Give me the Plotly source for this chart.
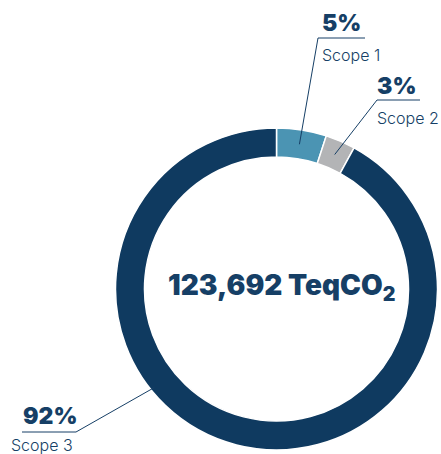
import math
import plotly.graph_objects as go

# Emissions breakdown by scope
scopes = ["Scope 1", "Scope 2", "Scope 3"]
shares = [5, 3, 92]
pct_labels = ["5%", "3%", "92%"]
total_label = "123,692 TeqCO<sub>2</sub>"

W, H = 441, 454
NAVY = "#0f3a60"
TEXT = "#163f66"
colors = ["#4b94b3", "#b3b4b6", NAVY]

# ring geometry (pixels)
cx, cy, r_out = 276.5, 289.0, 161.0
hole = 0.82
r_mid = r_out * (1 + hole) / 2

fig = go.Figure()
fig.add_trace(go.Pie(
    labels=scopes, values=shares, sort=False, direction="clockwise",
    rotation=0, hole=hole, textinfo="none", hoverinfo="label+percent",
    marker=dict(colors=colors, line=dict(color="white", width=1.5)),
    domain=dict(x=[(cx - r_out) / W, (cx + r_out) / W],
                y=[1 - (cy + r_out) / H, 1 - (cy - r_out) / H]),
    showlegend=False,
))


def ring_point(frac, r):
    a = 2 * math.pi * frac
    return cx + r * math.sin(a), cy - r * math.cos(a)


total = sum(shares)
cum = 0
mids = []
for v in shares:
    mids.append((cum + v / 2) / total)
    cum += v

# callout anchors: (elbow x, elbow y, rule x0, rule x1, label left x, pct y, name y)
callouts = [
    dict(ex=318, ey=38, rx0=318, rx1=365, lx=320, py=23, ny=55),
    dict(ex=377, ey=100, rx0=377, rx1=420, lx=375, py=86, ny=118),
    dict(ex=76, ey=432, rx0=22, rx1=76, lx=21, py=416, ny=445, lx2=9),
]

shapes = []
dots_x, dots_y = [], []
for i, c in enumerate(callouts):
    if i < 2:
        px, py = ring_point(mids[i], r_mid)
        dots_x.append(px)
        dots_y.append(py)
    else:
        # leader meets the outer edge of the large slice
        px, py = ring_point(0.642, r_out - 4)
    shapes.append(dict(type="line", xref="x", yref="y", x0=c["ex"], y0=c["ey"],
                       x1=px, y1=py, line=dict(color=TEXT, width=1)))
    shapes.append(dict(type="line", xref="x", yref="y", x0=c["rx0"], y0=c["ey"],
                       x1=c["rx1"], y1=c["ey"], line=dict(color=TEXT, width=1)))

fig.add_trace(go.Scatter(x=dots_x, y=dots_y, mode="markers",
                         marker=dict(color=TEXT, size=6), hoverinfo="skip",
                         showlegend=False))

annotations = []
for i, c in enumerate(callouts):
    annotations.append(dict(x=c["lx"], y=c["py"], xref="x", yref="y",
                            text=pct_labels[i], showarrow=False,
                            xanchor="left", yanchor="middle",
                            font=dict(family="Inter", size=23, color=TEXT, weight=900)))
    annotations.append(dict(x=c.get("lx2", c["lx"]), y=c["ny"], xref="x", yref="y",
                            text=scopes[i], showarrow=False,
                            xanchor="left", yanchor="middle",
                            font=dict(family="Inter", size=16, color=TEXT, weight=300)))

annotations.append(dict(x=281, y=287, xref="x", yref="y", text=total_label,
                        showarrow=False, xanchor="center", yanchor="middle",
                        font=dict(family="Inter", size=28, color=TEXT, weight=900)))

fig.update_layout(
    width=W, height=H, margin=dict(l=0, r=0, t=0, b=0),
    paper_bgcolor="white", plot_bgcolor="rgba(0,0,0,0)",
    xaxis=dict(range=[0, W], visible=False, fixedrange=True),
    yaxis=dict(range=[H, 0], visible=False, fixedrange=True),
    shapes=shapes, annotations=annotations,
)

fig.write_html("out.html")
